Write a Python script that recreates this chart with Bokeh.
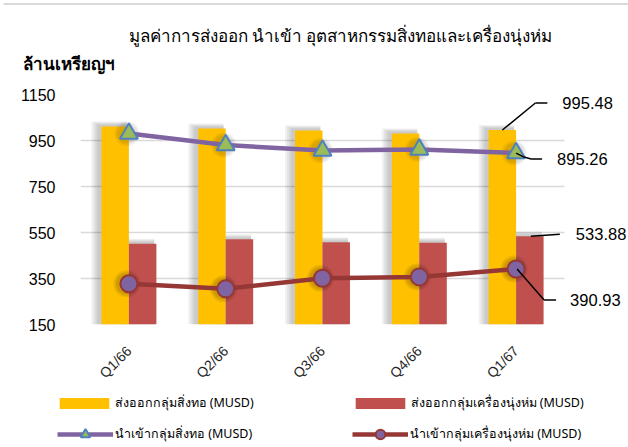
import math
from bokeh.plotting import figure
from bokeh.layouts import column
from bokeh.models import (Range1d, FixedTicker, Label, Arrow,
                          Legend, LegendItem, ColumnDataSource)
from bokeh.embed import file_html
from bokeh.resources import INLINE

# ---------------- data ----------------
quarters = ["Q1/66", "Q2/66", "Q3/66", "Q4/66", "Q1/67"]
export_textile = [1011, 1002, 993, 980, 995.48]      # ส่งออกกลุ่มสิ่งทอ
export_garment = [501, 521, 508, 505, 533.88]        # ส่งออกกลุ่มเครื่องนุ่งห่ม
import_textile = [980, 930, 906, 911, 895.26]        # นำเข้ากลุ่มสิ่งทอ
import_garment = [327, 305, 351, 357, 390.93]        # นำเข้ากลุ่มเครื่องนุ่งห่ม
y_ticks = [150, 350, 550, 750, 950, 1150]

title_text = "มูลค่าการส่งออก นำเข้า อุตสาหกรรมสิ่งทอและเครื่องนุ่งห่ม"
unit_text = "ล้านเหรียญฯ"
legend_labels = ["ส่งออกกลุ่มสิ่งทอ (MUSD)", "ส่งออกกลุ่มเครื่องนุ่งห่ม (MUSD)",
                 "นำเข้ากลุ่มสิ่งทอ (MUSD)", "นำเข้ากลุ่มเครื่องนุ่งห่ม (MUSD)"]

GOLD = "#FFC000"
RED = "#C0504D"
PURPLE = "#8064A2"
DARKRED = "#953735"
GREEN = "#9BBB59"
BLUE = "#4F81BD"
BORDER = "#D9D9D9"

THAI = "Noto Sans"
NUM = "Liberation Sans"

# ---------------- layout geometry ----------------
W = 628
H_TOP, H_MAIN, H_LEG = 80, 312, 55
ML, MT, MB, MR = 80, 14, 68, 0
CAT_PX = 96.8                         # pixel width of one category
frame_h = H_MAIN - MT - MB
y0, y1 = 150, 1150
PX_X = 1.0 / CAT_PX                   # x units per pixel
PX_Y = (y1 - y0) / frame_h            # value units per pixel
x_end = (W - ML - MR) * PX_X          # frame extends right to hold the data labels
BAR_W = 0.284
ncat = len(quarters)
xs = [i + 0.5 for i in range(ncat)]


def strip(height):
    f = figure(width=W, height=height, x_range=Range1d(0, W), y_range=Range1d(height, 0),
               output_backend="svg", toolbar_location=None, frame_align=False,
               x_axis_location=None, y_axis_location=None,
               min_border_left=0, min_border_right=0, min_border_top=0, min_border_bottom=0)
    f.grid.visible = False
    f.outline_line_color = None
    f.border_fill_color = "white"
    f.background_fill_color = "white"
    return f


# ---------------- title strip ----------------
top = strip(H_TOP)
top.segment(x0=[3], y0=[3.5], x1=[W], y1=[3.5], line_color=BORDER, line_width=2)
top.add_layout(Label(x=340, y=35, text=title_text, text_font=THAI, text_font_size="17px",
                     text_color="#000000", text_align="center", text_baseline="middle"))
top.add_layout(Label(x=22, y=63, text=unit_text, text_font=THAI, text_font_size="17px",
                     text_font_style="bold", text_color="#000000",
                     text_align="left", text_baseline="middle"))

# ---------------- main chart ----------------
p = figure(width=W, height=H_MAIN, x_range=Range1d(0, x_end), y_range=Range1d(y0, y1),
           output_backend="svg", toolbar_location=None, frame_align=False,
           min_border_left=ML, min_border_right=MR, min_border_top=MT,
           min_border_bottom=MB)
p.outline_line_color = None
p.background_fill_color = "white"
p.border_fill_color = "white"
p.xgrid.grid_line_color = None
p.ygrid.grid_line_color = BORDER
p.ygrid.grid_line_width = 1.6
p.ygrid.cross_bounds = (0, ncat)
p.yaxis.ticker = FixedTicker(ticks=y_ticks)
p.xaxis.ticker = FixedTicker(ticks=xs)
p.xaxis.major_label_overrides = {x: q for x, q in zip(xs, quarters)}

for ax in (p.xaxis[0], p.yaxis[0]):
    ax.axis_line_color = None
    ax.major_tick_line_color = None
    ax.minor_tick_line_color = None
    ax.major_tick_out = 0
    ax.minor_tick_out = 0
p.yaxis.major_label_text_font = NUM
p.yaxis.major_label_text_font_size = "16px"
p.yaxis.major_label_text_color = "#000000"
p.yaxis.major_label_standoff = 25
p.xaxis.major_label_text_font = NUM
p.xaxis.major_label_text_font_size = "14px"
p.xaxis.major_label_text_color = "#262626"
p.xaxis.major_label_orientation = math.pi / 4
p.xaxis.major_label_standoff = 24

src = ColumnDataSource(dict(x=xs, q=quarters, et=export_textile, eg=export_garment,
                            it=import_textile, ig=import_garment,
                            xl=[x - BAR_W / 2 for x in xs], xr=[x + BAR_W / 2 for x in xs]))

# ---- soft shadows (approximating the blurred drop shadows, up and to the left) ----
for k in range(1, 5):
    sh = ColumnDataSource(dict(
        xl=[x - BAR_W / 2 - (2 + k) * PX_X for x in xs],
        xr=[x + BAR_W / 2 - (2 + k) * PX_X for x in xs],
        et=[v + (1 + k) * PX_Y for v in export_textile],
        eg=[v + (1 + k) * PX_Y for v in export_garment]))
    wk = BAR_W + 2 * k * PX_X
    p.vbar(x="xl", top="et", bottom=0, width=wk, source=sh,
           fill_color="black", fill_alpha=0.055, line_color=None)
    p.vbar(x="xr", top="eg", bottom=0, width=wk, source=sh,
           fill_color="black", fill_alpha=0.055, line_color=None)

p.vbar(x="xl", top="et", bottom=0, width=BAR_W, source=src, fill_color=GOLD, line_color=None)
p.vbar(x="xr", top="eg", bottom=0, width=BAR_W, source=src, fill_color=RED, line_color=None)

# marker shadows
shm = ColumnDataSource(dict(x=[x - 2 * PX_X for x in xs], it=import_textile, ig=import_garment))
for k in range(1, 4):
    p.scatter(x="x", y="ig", source=shm, size=18 + 3 * k, marker="circle",
              fill_color="black", fill_alpha=0.07, line_color=None)
    p.scatter(x="x", y="it", source=shm, size=16 + 3 * k, marker="circle",
              fill_color="black", fill_alpha=0.05, line_color=None)

LINE1 = dict(line_color=PURPLE, line_width=4.5)
MARK1 = dict(marker="triangle", fill_color=GREEN, line_color=BLUE, line_width=2)
LINE2 = dict(line_color=DARKRED, line_width=4.5)
MARK2 = dict(marker="circle", fill_color=PURPLE, line_color=DARKRED, line_width=2)

p.line(x="x", y="it", source=src, **LINE1)
p.scatter(x="x", y="it", source=src, size=18, **MARK1)
p.line(x="x", y="ig", source=src, **LINE2)
p.scatter(x="x", y="ig", source=src, size=17, **MARK2)

# ---------------- data labels with leader lines ----------------
n = ncat - 1
last = [
    # (x, y, leader path in pixel offsets, text offset)
    (xs[n] - BAR_W / 2, export_textile[n], [(0, 0), (33, 27), (45, 27)], (60, 27)),
    (xs[n], import_textile[n], [(0, 0), (8, -4), (15, -6), (26, -6)], (41, -6)),
    (xs[n] + BAR_W / 2, export_garment[n], [(1, 0), (30, 2)], (46, 2)),
    (xs[n], import_garment[n], [(1, 0), (28, -31), (40, -31)], (54, -31)),
]
vals = [export_textile[n], import_textile[n], export_garment[n], import_garment[n]]
for (x, y, path, (tx, ty)), v in zip(last, vals):
    for (ax_, ay_), (bx_, by_) in zip(path[:-1], path[1:]):
        p.add_layout(Arrow(end=None, x_start=x + ax_ * PX_X, y_start=y + ay_ * PX_Y,
                           x_end=x + bx_ * PX_X, y_end=y + by_ * PX_Y,
                           line_color="black", line_width=1.5))
    p.add_layout(Label(x=x, y=y, x_offset=tx, y_offset=ty, text=f"{v:.2f}",
                       text_font=NUM, text_font_size="16.5px", text_color="#000000",
                       text_align="left", text_baseline="middle"))

# ---------------- legend strip ----------------
leg = strip(H_LEG)
# legend proxies: same series, hidden in this strip
r1 = leg.vbar(x="xl", top="et", width=BAR_W, source=src, fill_color=GOLD, line_color=None, visible=False)
r2 = leg.vbar(x="xr", top="eg", width=BAR_W, source=src, fill_color=RED, line_color=None, visible=False)
r3 = leg.line(x="x", y="it", source=src, visible=False, **LINE1)
r4 = leg.scatter(x="x", y="it", source=src, size=18, visible=False, **MARK1)
r5 = leg.line(x="x", y="ig", source=src, visible=False, **LINE2)
r6 = leg.scatter(x="x", y="ig", source=src, size=17, visible=False, **MARK2)

common = dict(orientation="horizontal", spacing=0, padding=0, margin=0,
              border_line_color=None, background_fill_alpha=0,
              inactive_fill_alpha=0, click_policy="none",
              label_text_font=THAI, label_text_font_size="12.5px", label_text_color="#000000")
leg1 = Legend(items=[LegendItem(label=legend_labels[0], renderers=[r1]),
                     LegendItem(label=legend_labels[1], renderers=[r2])],
              location=(52.5, 34), glyph_width=62, glyph_height=14, label_height=14,
              label_width=234, label_standoff=0, **common)
leg2 = Legend(items=[LegendItem(label=legend_labels[2], renderers=[r3, r4]),
                     LegendItem(label=legend_labels[3], renderers=[r5, r6])],
              location=(57, 1), glyph_width=56, glyph_height=24, label_height=24,
              label_width=237, label_standoff=2, **common)
leg.add_layout(leg1)
leg.add_layout(leg2)

page = column(top, p, leg, spacing=0)
open("out.html", "w").write(file_html(page, INLINE))
